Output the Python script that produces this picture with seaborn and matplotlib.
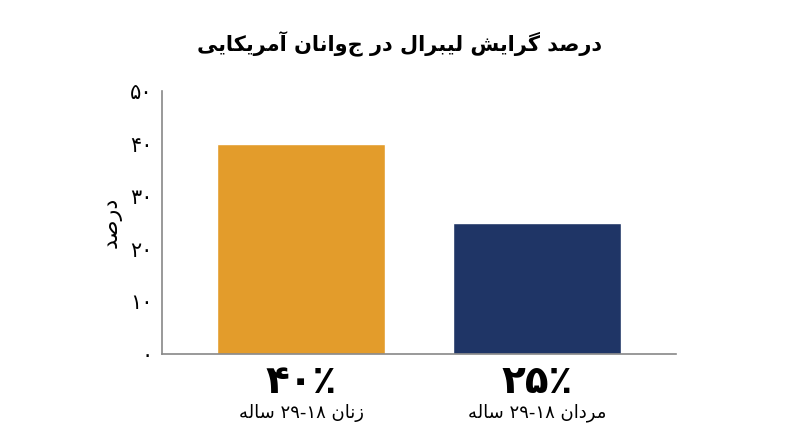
import matplotlib
matplotlib.use("Agg")
import matplotlib.pyplot as plt
import seaborn as sns
import pandas as pd

# datos
categorias = ["زنان ۱۸-۲۹ ساله", "مردان ۱۸-۲۹ ساله"]
valores = [40, 25]
etiquetas_valor = ["۴۰٪", "۲۵٪"]
colores = ["#E39C2B", "#1F3566"]
yticks = [0, 10, 20, 30, 40, 50]
yticklabels = ["۰", "۱۰", "۲۰", "۳۰", "۴۰", "۵۰"]
titulo = "درصد گرایش لیبرال در جوانان آمریکایی"
ylabel = "درصد"

# formas de presentación: (aislada, final, inicial, medial)
FORMAS = {
    "ا": ("\uFE8D", "\uFE8E", None, None),
    "آ": ("\uFE81", "\uFE82", None, None),
    "ب": ("\uFE8F", "\uFE90", "\uFE91", "\uFE92"),
    "ت": ("\uFE95", "\uFE96", "\uFE97", "\uFE98"),
    "د": ("\uFEA9", "\uFEAA", None, None),
    "ر": ("\uFEAD", "\uFEAE", None, None),
    "ز": ("\uFEAF", "\uFEB0", None, None),
    "س": ("\uFEB1", "\uFEB2", "\uFEB3", "\uFEB4"),
    "ش": ("\uFEB5", "\uFEB6", "\uFEB7", "\uFEB8"),
    "ص": ("\uFEB9", "\uFEBA", "\uFEBB", "\uFEBC"),
    "ل": ("\uFEDD", "\uFEDE", "\uFEDF", "\uFEE0"),
    "م": ("\uFEE1", "\uFEE2", "\uFEE3", "\uFEE4"),
    "ن": ("\uFEE5", "\uFEE6", "\uFEE7", "\uFEE8"),
    "ه": ("\uFEE9", "\uFEEA", "\uFEEB", "\uFEEC"),
    "و": ("\uFEED", "\uFEEE", None, None),
    "ک": ("\uFB8E", "\uFB8F", "\uFB90", "\uFB91"),
    "گ": ("\uFB92", "\uFB93", "\uFB94", "\uFB95"),
    "ی": ("\uFBFC", "\uFBFD", "\uFBFE", "\uFBFF"),
}


def une_izq(c):
    return c in FORMAS and FORMAS[c][2] is not None


def farsi(texto):
    # dar forma a las letras
    out = []
    n = len(texto)
    for i, c in enumerate(texto):
        if c not in FORMAS:
            out.append(c)
            continue
        prev = texto[i - 1] if i > 0 else ""
        nxt = texto[i + 1] if i < n - 1 else ""
        con_prev = une_izq(prev)
        con_sig = une_izq(c) and nxt in FORMAS
        iso, fin, ini, med = FORMAS[c]
        if con_prev and con_sig:
            out.append(med)
        elif con_prev:
            out.append(fin)
        elif con_sig:
            out.append(ini)
        else:
            out.append(iso)
    # orden visual: invertir, manteniendo los números
    partes = []
    buf = ""
    for c in out:
        if "\u06F0" <= c <= "\u06F9" or c.isdigit():
            buf += c
        else:
            if buf:
                partes.append(buf)
                buf = ""
            partes.append(c)
    if buf:
        partes.append(buf)
    return "".join(reversed(partes))


df = pd.DataFrame({"grupo": categorias, "valor": valores})

sns.set_style("white")
plt.rcParams["font.family"] = ["DejaVu Sans"]
plt.rcParams["text.color"] = "black"
plt.rcParams["axes.labelcolor"] = "black"
plt.rcParams["ytick.labelcolor"] = "black"

fig = plt.figure(figsize=(8, 4.47), dpi=100)
ax = fig.add_axes([0.2025, 0.208, 0.6425, 0.588])

sns.barplot(data=df, x="grupo", y="valor", hue="grupo", palette=colores,
            width=0.71, legend=False, ax=ax, saturation=1)

ax.set_xlim(-0.59, 1.59)
ax.set_ylim(0, 50)
ax.set_yticks(yticks)
ax.set_yticklabels(yticklabels, fontsize=15)
ax.set_xlabel("")
ax.set_ylabel(farsi(ylabel), fontsize=16, labelpad=6)
ax.tick_params(axis="x", length=0, labelbottom=False)
ax.tick_params(axis="y", direction="in", length=9, color="#888888",
               width=1, pad=6.5)

for s in ["top", "right"]:
    ax.spines[s].set_visible(False)
for s in ["left", "bottom"]:
    ax.spines[s].set_color("#888888")
    ax.spines[s].set_linewidth(1.2)

trans = ax.get_xaxis_transform()
for i, (cat, et) in enumerate(zip(categorias, etiquetas_valor)):
    ax.text(i, -0.105, et, transform=trans, ha="center", va="center",
            fontsize=28, fontweight="bold", color="black")
    ax.text(i, -0.225, farsi(cat), transform=trans, ha="center", va="center",
            fontsize=13, color="black")

fig.text(0.5, 0.9, farsi(titulo), ha="center", va="center",
         fontsize=15, fontweight="bold", color="black")

fig.savefig("out.png", dpi=100)
